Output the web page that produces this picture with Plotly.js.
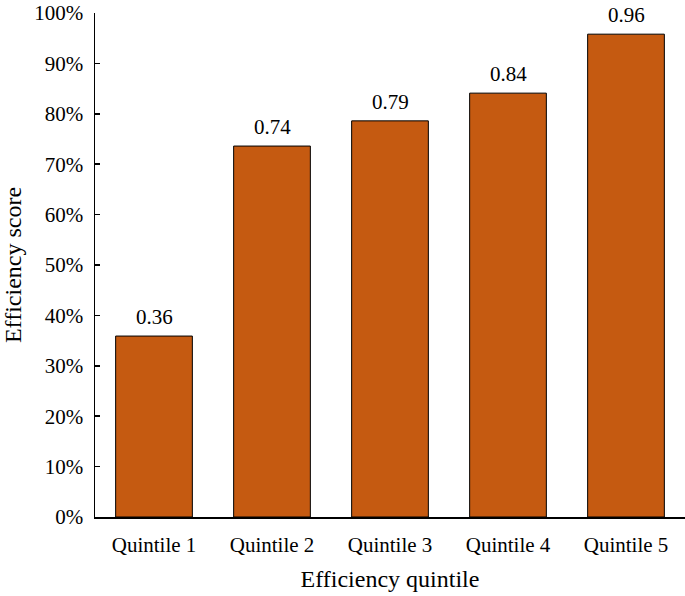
<!DOCTYPE html>
<html>
<head>
<meta charset="utf-8">
<script src="https://cdn.plot.ly/plotly-3.0.1.min.js"></script>
<style>html,body{margin:0;padding:0;background:#fff;}#chart{width:685px;height:596px;}</style>
</head>
<body>
<div id="chart"></div>
<script>
const categories = ["Quintile 1", "Quintile 2", "Quintile 3", "Quintile 4", "Quintile 5"];
const scores = [0.359, 0.736, 0.786, 0.841, 0.958];
const labels = ["0.36", "0.74", "0.79", "0.84", "0.96"];

const font = "'Times New Roman', 'Liberation Serif', Times, serif";

const trace = {
  type: "bar",
  x: categories,
  y: scores,
  width: 0.65,
  marker: {color: "#C55A11", line: {color: "#000", width: 1}},
  hoverinfo: "skip"
};

const annotations = categories.map((c, i) => ({
  x: c, y: scores[i], xref: "x", yref: "y",
  text: labels[i], showarrow: false,
  yanchor: "bottom", yshift: 5,
  font: {family: font, size: 21, color: "#000"}
}));

const layout = {
  width: 685, height: 596,
  margin: {l: 95, r: 0, t: 13, b: 79},
  paper_bgcolor: "#fff", plot_bgcolor: "#fff",
  font: {family: font, size: 21, color: "#000"},
  showlegend: false,
  xaxis: {
    showline: true, linecolor: "#000", linewidth: 1.5,
    ticks: "", showgrid: false, zeroline: false,
    tickfont: {family: font, size: 21, color: "#000"},
    ticklabelstandoff: 8,
    title: {text: "Efficiency quintile", font: {family: font, size: 24, color: "#000"}, standoff: 14}
  },
  yaxis: {
    range: [0, 1], dtick: 0.1, tick0: 0, tickformat: ".0%",
    showline: true, linecolor: "#000", linewidth: 1.5,
    ticks: "inside", ticklen: 5, tickcolor: "#000", tickwidth: 1.5,
    showgrid: false, zeroline: false,
    tickfont: {family: font, size: 21, color: "#000"},
    ticklabelstandoff: 6,
    title: {text: "Efficiency score", font: {family: font, size: 24, color: "#000"}, standoff: 8}
  },
  annotations: annotations
};

Plotly.newPlot("chart", [trace], layout, {displayModeBar: false, staticPlot: true});
</script>
</body>
</html>
